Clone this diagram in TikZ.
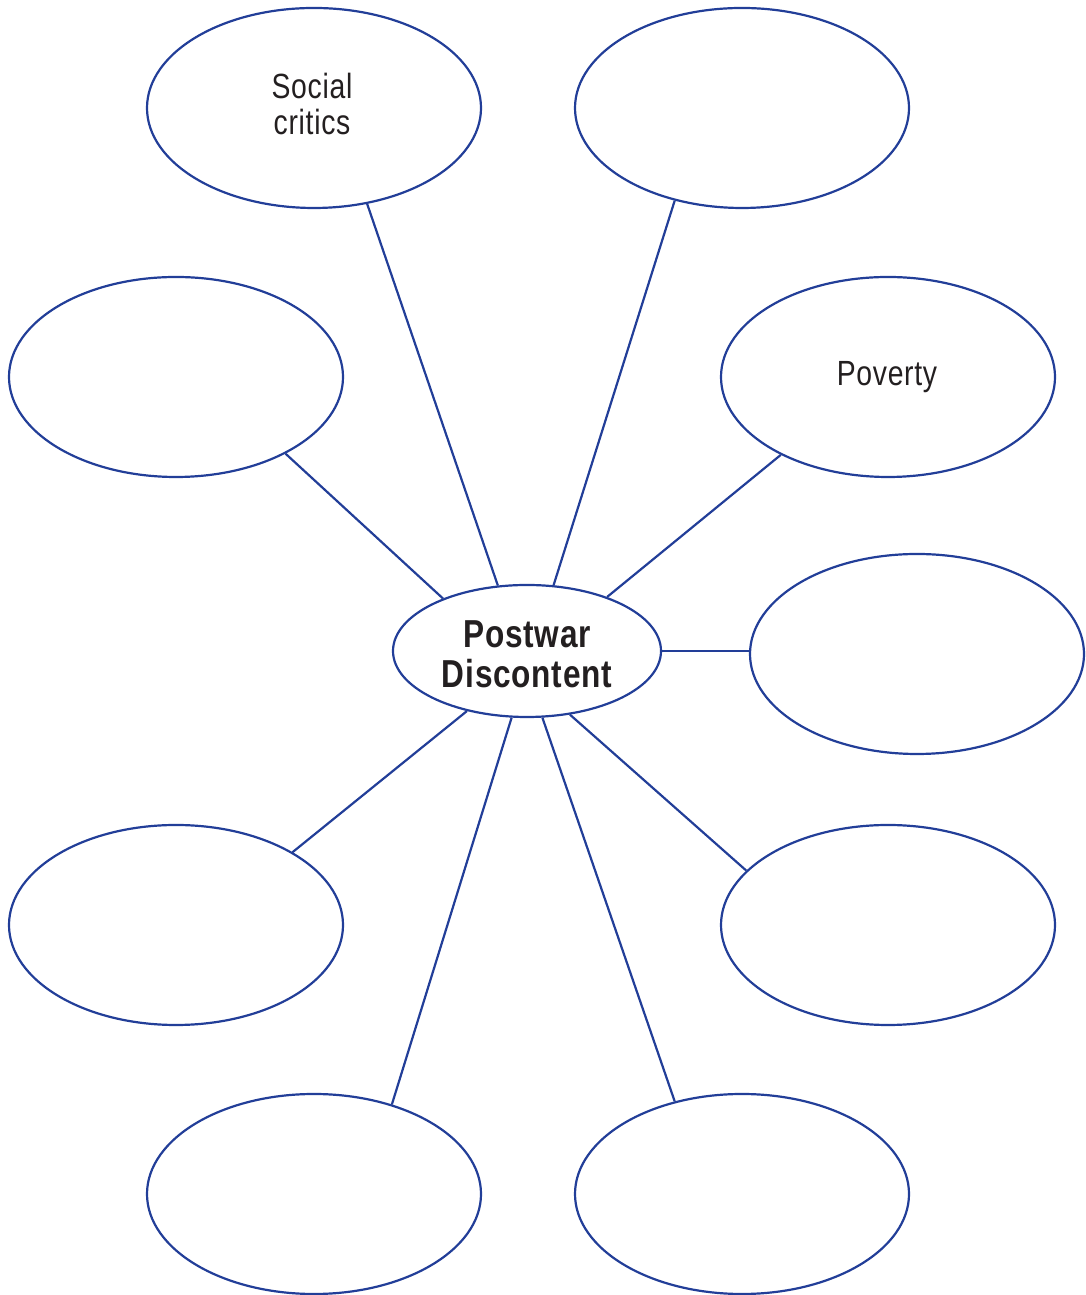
\documentclass[tikz,border=0pt]{standalone}
\usepackage{fontspec}
\setmainfont{Liberation Sans}[FakeStretch=0.81,LetterSpace=2]
\usetikzlibrary{shapes.geometric}
\definecolor{webblue}{RGB}{34,62,152}
\definecolor{txtgray}{RGB}{35,31,32}
\tikzset{
  bubble/.style={ellipse, draw=webblue, line width=2.2pt, minimum width=334pt, minimum height=200pt, inner sep=0pt},
  hub/.style={ellipse, draw=webblue, line width=2.2pt, minimum width=268pt, minimum height=132pt, inner sep=0pt},
  btext/.style={text=txtgray, align=center, inner sep=0pt, font=\fontsize{35}{36}\selectfont},
  htext/.style={text=txtgray, align=center, inner sep=0pt, font=\fontsize{39}{40}\selectfont\bfseries},
  spoke/.style={draw=webblue, line width=2.2pt}
}
\begin{document}
\begin{tikzpicture}[x=1pt,y=1pt]
\useasboundingbox (0,0) rectangle (1085,1295);
\node[hub] (c) at (527,644) {};
\node[htext] (ct) at (527,641) {Postwar\\Discontent};
\node[bubble] (tl) at (314,1187) {};
\node[btext] (tlt) at (312,1191) {Social\\critics};
\node[bubble] (tr) at (742,1187) {};
\node[bubble] (lm) at (176,918) {};
\node[bubble] (pov) at (888,918) {};
\node[btext] (povt) at (887,918) {Poverty};
\node[bubble] (rm) at (917,641) {};
\node[bubble] (bl) at (176,370) {};
\node[bubble] (br) at (888,370) {};
\node[bubble] (bfl) at (314,101) {};
\node[bubble] (bfr) at (742,101) {};
\draw[spoke] (c.114.8) -- (tl.-61.8);
\draw[spoke] (c.68.2) -- (tr.-126.1);
\draw[spoke] (c.148.7) -- (lm.-35.7);
\draw[spoke] (c.34.2) -- (pov.-144);
\draw[spoke] (c.east) -- (c.east -| rm.west);
\draw[spoke] (c.-135.5) -- (bl.32.9);
\draw[spoke] (c.-56.3) -- (br.159.5);
\draw[spoke] (c.-103) -- (bfl.49.9);
\draw[spoke] (c.-77.8) -- (bfr.126.8);
\end{tikzpicture}
\end{document}
